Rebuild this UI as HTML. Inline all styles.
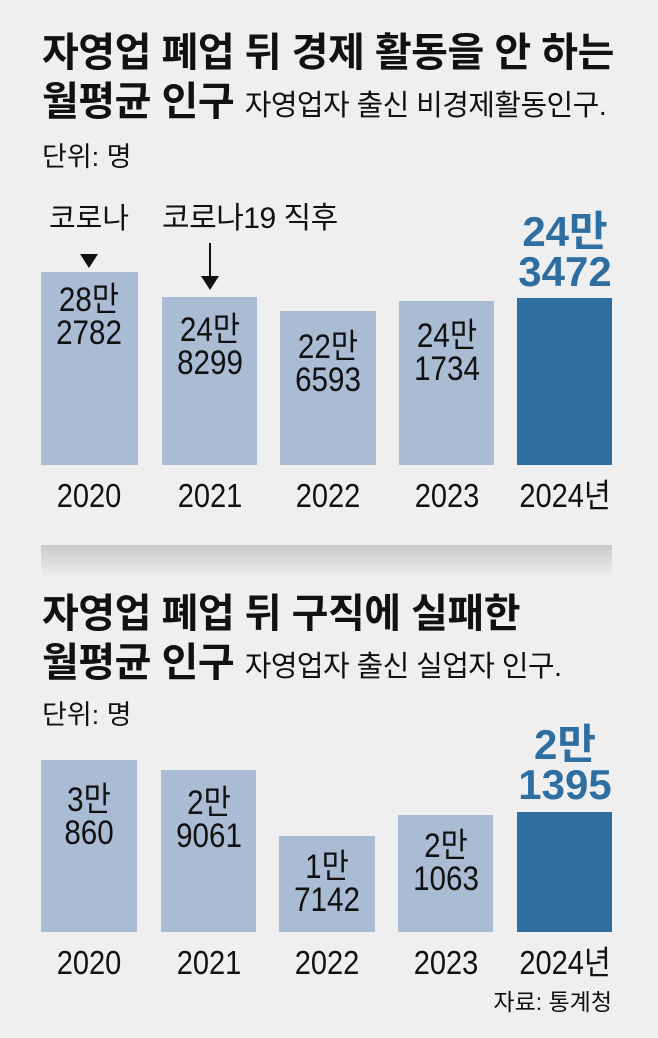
<!DOCTYPE html>
<html><head><meta charset="utf-8"><style>
body{margin:0;background:#efefef;}
#c{position:relative;width:658px;height:1038px;overflow:hidden;background:#efefef;font-family:"Liberation Sans","Noto Sans CJK KR",sans-serif;color:#111;}
.a{position:absolute;white-space:nowrap;line-height:1;}
.t{font-weight:bold;font-size:40px;letter-spacing:-0.5px;}
.s{font-size:29px;font-weight:normal;letter-spacing:-0.6px;}
.u{font-size:27px;}
.bar{position:absolute;background:#a9bcd4;}
.dk{background:#2f6e9e;}
.lb{position:absolute;text-align:center;font-size:34px;line-height:33px;transform:scaleX(0.87);white-space:nowrap;}
.yr{position:absolute;text-align:center;font-size:33px;line-height:33px;height:33px;width:160px;transform:scaleX(0.88);white-space:nowrap;}
.big{position:absolute;text-align:center;font-size:42px;line-height:40px;font-weight:bold;color:#2f6ea0;width:120px;white-space:nowrap;}
</style></head><body><div id="c">
<div class="a t" style="left:42px;top:33px;">자영업 폐업 뒤 경제 활동을 안 하는</div>
<div class="a t" style="left:42px;top:82px;">월평균 인구 <span class="s">자영업자 출신 비경제활동인구.</span></div>
<div class="a u" style="left:42px;top:144px;">단위: 명</div>

<div class="a" style="left:49px;top:205px;font-size:29px;">코로나</div>
<div class="a" style="left:80px;top:254px;width:0;height:0;border-left:9px solid transparent;border-right:9px solid transparent;border-top:14px solid #111;"></div>
<div class="a" style="left:162px;top:204px;font-size:30px;letter-spacing:-0.5px;">코로나19 직후</div>
<div class="a" style="left:209px;top:243px;width:2px;height:36px;background:#111;"></div>
<div class="a" style="left:201px;top:276px;width:0;height:0;border-left:9px solid transparent;border-right:9px solid transparent;border-top:14px solid #111;"></div>

<div class="bar" style="left:41px;top:272px;width:97px;height:193px;"></div>
<div class="bar" style="left:162px;top:297px;width:95px;height:168px;"></div>
<div class="bar" style="left:280px;top:311px;width:96px;height:154px;"></div>
<div class="bar" style="left:399px;top:301px;width:95px;height:164px;"></div>
<div class="bar dk" style="left:517px;top:298px;width:95px;height:167px;"></div>

<div class="lb" style="left:29px;top:284px;width:120px;">28만<br>2782</div>
<div class="lb" style="left:150px;top:314px;width:120px;">24만<br>8299</div>
<div class="lb" style="left:268px;top:331px;width:120px;">22만<br>6593</div>
<div class="lb" style="left:387px;top:320px;width:120px;">24만<br>1734</div>
<div class="big" style="left:505px;top:212px;">24만<br>3472</div>

<div class="yr" style="left:9px;top:479px;">2020</div>
<div class="yr" style="left:130px;top:479px;">2021</div>
<div class="yr" style="left:248px;top:479px;">2022</div>
<div class="yr" style="left:367px;top:479px;">2023</div>
<div class="yr" style="left:485px;top:479px;">2024년</div>

<div class="a" style="left:41px;top:545px;width:571px;height:32px;background:linear-gradient(#c9c9c9,#efefef);"></div>

<div class="a t" style="left:42px;top:594px;">자영업 폐업 뒤 구직에 실패한</div>
<div class="a t" style="left:42px;top:643px;">월평균 인구 <span class="s">자영업자 출신 실업자 인구.</span></div>
<div class="a u" style="left:42px;top:702px;">단위: 명</div>

<div class="bar" style="left:41px;top:760px;width:96px;height:172px;"></div>
<div class="bar" style="left:161px;top:770px;width:95px;height:162px;"></div>
<div class="bar" style="left:279px;top:836px;width:96px;height:96px;"></div>
<div class="bar" style="left:398px;top:815px;width:95px;height:117px;"></div>
<div class="bar dk" style="left:517px;top:812px;width:95px;height:120px;"></div>

<div class="lb" style="left:29px;top:784px;width:120px;">3만<br>860</div>
<div class="lb" style="left:149px;top:787px;width:120px;">2만<br>9061</div>
<div class="lb" style="left:267px;top:851px;width:120px;">1만<br>7142</div>
<div class="lb" style="left:386px;top:830px;width:120px;">2만<br>1063</div>
<div class="big" style="left:505px;top:725px;">2만<br>1395</div>

<div class="yr" style="left:9px;top:946px;">2020</div>
<div class="yr" style="left:129px;top:946px;">2021</div>
<div class="yr" style="left:247px;top:946px;">2022</div>
<div class="yr" style="left:366px;top:946px;">2023</div>
<div class="yr" style="left:485px;top:946px;">2024년</div>

<div class="a" style="right:46px;top:991px;font-size:23px;">자료: 통계청</div>
</div></body></html>
